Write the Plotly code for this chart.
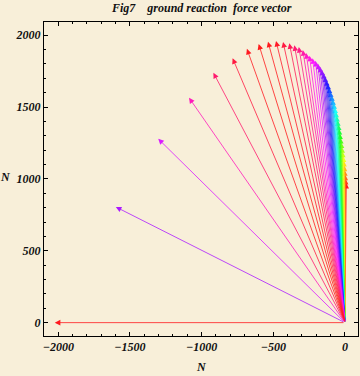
import math
import plotly.graph_objects as go

# Force vector tips (N) in time order: horizontal component, vertical component (tail at origin)
force_x = [9, 5, 2, -1, -4, -7, -11, -16, -20, -25, -30, -35, -40, -45, -51, -57, -63,
           -70, -77, -85, -93, -102, -111, -120, -130, -140, -151, -162, -175, -189,
           -206, -226, -248,
           -271, -294, -322, -353, -388, -432, -481, -537, -602, -684, -784, -918,
           -1088, -1303, -1599, -2025]
force_y = [973, 1001, 1030, 1061, 1093, 1125, 1157, 1189, 1221, 1253, 1285, 1316, 1347,
           1378, 1408, 1438, 1468, 1497, 1526, 1554, 1582, 1609, 1636, 1662, 1688, 1713,
           1737, 1760, 1782, 1803, 1822, 1840, 1858,
           1876, 1897, 1918, 1930, 1944, 1953, 1960, 1955, 1939, 1905, 1840, 1739,
           1565, 1279, 805, 0]

x_ticks = [-2000, -1500, -1000, -500, 0]
y_ticks = [0, 500, 1000, 1500, 2000]
title_text = "Fig7\u00a0\u00a0\u00a0\u00a0ground reaction\u00a0\u00a0force vector"
axis_label = "N"

BG = "#f8efd9"
FONT = dict(family="Liberation Serif, Times New Roman, serif", size=12,
            color="#111111", weight="bold", style="italic")

mags = [math.hypot(a, b) for a, b in zip(force_x, force_y)]
mmin, mmax = min(mags), max(mags)

def hue_color(m):
    h = (m - mmin) / (mmax - mmin)
    return "hsl(%.1f,100%%,55%%)" % (h * 360.0 % 360.0)

fig = go.Figure()
# invisible trace to anchor the axes
fig.add_trace(go.Scatter(x=[0], y=[0], mode="markers", marker=dict(size=1, opacity=0),
                         hoverinfo="skip", showlegend=False))

annotations = []
for fx, fy, m in zip(force_x, force_y, mags):
    annotations.append(dict(
        x=fx, y=fy, xref="x", yref="y", ax=0, ay=0, axref="x", ayref="y",
        text="", showarrow=True, arrowhead=2, arrowsize=1.4, arrowwidth=0.8,
        arrowcolor=hue_color(m), standoff=0, startstandoff=0))

annotations.append(dict(text=title_text, xref="paper", yref="paper", x=0.5, y=1.044,
                        xanchor="center", yanchor="middle", showarrow=False, font=FONT))
annotations.append(dict(text=axis_label, xref="paper", yref="paper", x=0.5, y=-0.1,
                        xanchor="center", yanchor="middle", showarrow=False, font=FONT))
annotations.append(dict(text=axis_label, xref="paper", yref="paper", x=-0.124, y=0.505,
                        xanchor="center", yanchor="middle", showarrow=False, font=FONT))

axis_common = dict(showgrid=False, zeroline=False, showline=True, linecolor="black",
                   linewidth=1, mirror="allticks", ticks="inside", ticklen=4,
                   tickcolor="black", tickwidth=1, tickfont=FONT, automargin=False,
                   minor=dict(ticks="inside", ticklen=2, dtick=100, tickcolor="black",
                              tickwidth=1, showgrid=False))

fig.update_layout(
    width=360, height=376,
    margin=dict(l=44, r=2, t=22, b=40, autoexpand=False),
    paper_bgcolor=BG, plot_bgcolor=BG,
    showlegend=False,
    xaxis=dict(range=[-2100, 91], tickvals=x_ticks, **axis_common),
    yaxis=dict(range=[-93, 2092], tickvals=y_ticks, **axis_common),
    annotations=annotations,
)

fig.write_html("out.html",
               config={"displayModeBar": False, "staticPlot": True},
               post_script="document.body.style.margin='0';"
                           "document.body.style.padding='0';"
                           "document.body.style.overflow='hidden';"
                           "document.body.style.background='%s';" % BG)
